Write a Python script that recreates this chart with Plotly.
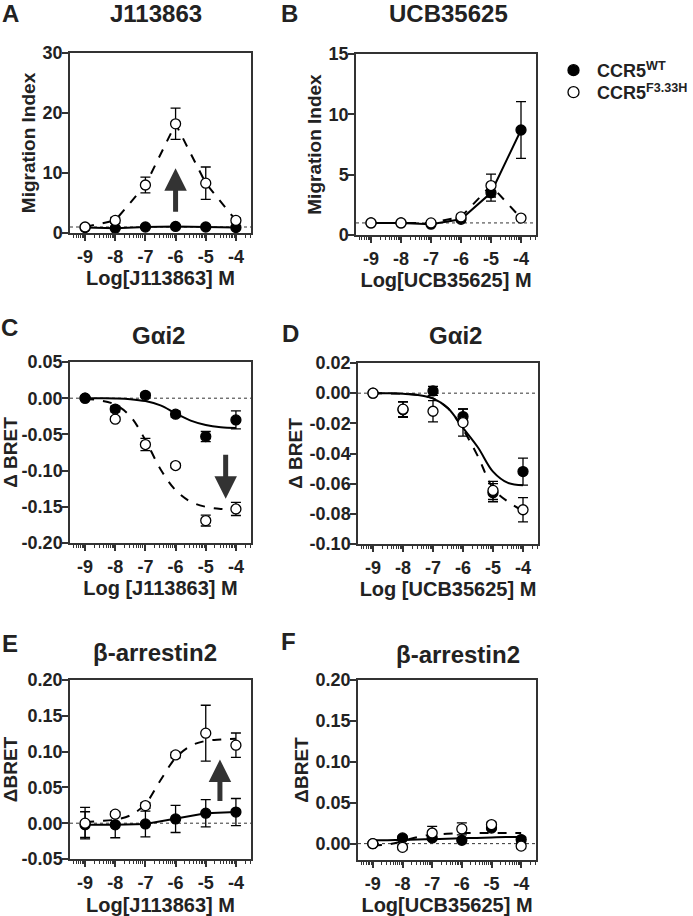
import math
import plotly.graph_objects as go

# ---------------- data ----------------
DOSE = [-9, -8, -7, -6, -5, -4]
CURVE_X = [-9, -8.5, -8, -7.5, -7, -6.5, -6, -5.5, -5, -4.5, -4]
X_TICKS = [-9, -8, -7, -6, -5, -4]
X_TICKTEXT = ["-9", "-8", "-7", "-6", "-5", "-4"]

# A: migration, J113863
A_WT = [0.9, 0.8, 1.0, 1.1, 1.0, 0.9]
A_WT_ERR = [0.15, 0.15, 0.15, 0.15, 0.15, 0.15]
A_F = [1.0, 2.1, 8.0, 18.2, 8.3, 2.1]
A_F_ERR = [0.3, 0.5, 1.3, 2.6, 2.7, 0.4]

# B: migration, UCB35625
B_WT = [1.0, 1.0, 0.9, 1.3, 3.5, 8.7]
B_WT_ERR = [0.1, 0.1, 0.1, 0.2, 0.7, 2.35]
B_F = [1.0, 1.0, 1.0, 1.5, 4.1, 1.4]
B_F_ERR = [0.1, 0.1, 0.15, 0.2, 0.95, 0.2]

# C: Gai2, J113863
C_WT = [0.0, -0.015, 0.004, -0.022, -0.053, -0.030]
C_WT_ERR = [0.002, 0.004, 0.003, 0.004, 0.007, 0.0125]
C_F = [0.0, -0.029, -0.064, -0.093, -0.169, -0.153]
C_F_ERR = [0.002, 0.003, 0.0085, 0.003, 0.0075, 0.009]
C_WT_FIT = [0.0, -0.0002, -0.0004, -0.0013, -0.004, -0.010, -0.021, -0.031, -0.037, -0.040, -0.041]
C_F_FIT = [-0.001, -0.003, -0.009, -0.025, -0.058, -0.098, -0.127, -0.143, -0.150, -0.153, -0.154]

# D: Gai2, UCB35625
D_WT = [0.0, -0.011, 0.0015, -0.0155, -0.066, -0.052]
D_WT_ERR = [0.001, 0.005, 0.003, 0.005, 0.006, 0.009]
D_F = [0.0, -0.0106, -0.012, -0.0195, -0.0645, -0.0773]
D_F_ERR = [0.001, 0.005, 0.007, 0.009, 0.006, 0.008]
D_WT_FIT = [0.0, -0.0001, -0.0004, -0.0012, -0.0035, -0.010, -0.023, -0.036, -0.052, -0.0595, -0.061]
D_F_FIT = [0.0, -0.0001, -0.0004, -0.0012, -0.0035, -0.010, -0.024, -0.042, -0.063, -0.072, -0.078]

# E: beta-arrestin2, J113863
E_WT = [-0.002, -0.0023, -0.001, 0.006, 0.014, 0.0155]
E_WT_ERR = [0.018, 0.018, 0.018, 0.019, 0.019, 0.019]
E_F = [0.0, 0.0126, 0.0246, 0.0954, 0.1257, 0.109]
E_F_ERR = [0.022, 0.003, 0.004, 0.004, 0.039, 0.017]
E_F_FIT = [0.002, 0.003, 0.005, 0.011, 0.027, 0.060, 0.091, 0.108, 0.115, 0.117, 0.118]

# F: beta-arrestin2, UCB35625
F_WT = [0.0, 0.007, 0.007, 0.004, 0.019, 0.005]
F_WT_ERR = [0.001, 0.002, 0.002, 0.002, 0.002, 0.003]
F_F = [0.0, -0.0045, 0.013, 0.018, 0.0233, -0.003]
F_F_ERR = [0.001, 0.003, 0.008, 0.0074, 0.003, 0.003]
F_WT_FIT = [0.004, 0.0042, 0.0045, 0.005, 0.0055, 0.006, 0.0065, 0.007, 0.0075, 0.008, 0.008]
F_F_FIT = [-0.002, -0.001, 0.003, 0.008, 0.011, 0.012, 0.013, 0.013, 0.013, 0.013, 0.013]

# y axis ticks per panel
A_YT = [0, 10, 20, 30]
B_YT = [0, 5, 10, 15]
C_YT = [0.05, 0.0, -0.05, -0.10, -0.15, -0.20]
D_YT = [0.02, 0.0, -0.02, -0.04, -0.06, -0.08, -0.10]
E_YT = [0.20, 0.15, 0.10, 0.05, 0.0, -0.05]
F_YT = [0.20, 0.15, 0.10, 0.05, 0.0]

LEGEND_NAMES = ["CCR5<sup>WT</sup>", "CCR5<sup>F3.33H</sup>"]

# ---------------- styling ----------------
FONT = "Liberation Sans, Arial, Helvetica, sans-serif"
INK = "#222222"
AX = "#333333"
W, H = 693, 916


def fmt(v, dec):
    return f"{v:.{dec}f}"


fig = go.Figure()

panels = [
    dict(n="", xd=(70, 251), yd=(53, 233), yr=(0, 30), yt=A_YT, dec=0,
         xt="Log[J113863] M", yt_title="Migration Index", base=1, so=2),
    dict(n="2", xd=(356, 536), yd=(54, 235), yr=(0, 15), yt=B_YT, dec=0,
         xt="Log[UCB35625] M", yt_title="Migration Index", base=1, so=2),
    dict(n="3", xd=(70, 251), yd=(362, 543), yr=(-0.20, 0.05), yt=C_YT, dec=2,
         xt="Log [J113863] M", yt_title="\u0394 BRET", base=0, so=5),
    dict(n="4", xd=(358, 538), yd=(363, 544), yr=(-0.10, 0.02), yt=D_YT, dec=2,
         xt="Log [UCB35625] M", yt_title="\u0394 BRET", base=0, so=5),
    dict(n="5", xd=(70, 251), yd=(680, 859), yr=(-0.05, 0.20), yt=E_YT, dec=2,
         xt="Log[J113863] M", yt_title="\u0394BRET", base=0, so=18),
    dict(n="6", xd=(358, 536), yd=(680, 860), yr=(-0.02, 0.20), yt=F_YT, dec=2,
         xt="Log[UCB35625] M", yt_title="\u0394BRET", base=0, so=18),
]

minor_vals = []
for dec_ in range(-10, -3):
    for k in range(2, 10):
        v = dec_ + math.log10(k)
        if -9.5 <= v <= -3.5:
            minor_vals.append(v)

layout_axes = {}
shapes = []
for p in panels:
    n = p["n"]
    layout_axes["xaxis" + n] = dict(
        domain=[p["xd"][0] / W, p["xd"][1] / W], anchor="y" + n, automargin=False,
        range=[-9.5, -3.5], showline=True, linecolor=AX, linewidth=1.5, mirror=True,
        ticks="outside", ticklen=6, tickwidth=1.5, tickcolor=AX,
        tickvals=X_TICKS, ticktext=X_TICKTEXT, ticklabelstandoff=1,
        tickfont=dict(family=FONT, size=18, color=INK, weight="bold"),
        minor=dict(tickmode="array", tickvals=minor_vals, ticks="outside",
                   ticklen=3, tickwidth=1, tickcolor=AX, showgrid=False),
        showgrid=False, zeroline=False,
        title=dict(text=p["xt"], font=dict(family=FONT, size=20, color=INK, weight="bold"),
                   standoff=p["so"]),
    )
    layout_axes["yaxis" + n] = dict(
        domain=[1 - p["yd"][1] / H, 1 - p["yd"][0] / H], anchor="x" + n, automargin=False,
        range=list(p["yr"]), showline=True, linecolor=AX, linewidth=1.5, mirror=True,
        ticks="outside", ticklen=6, tickwidth=1.5, tickcolor=AX,
        tickvals=p["yt"], ticktext=[fmt(v, p["dec"]) for v in p["yt"]],
        ticklabelstandoff=-4,
        tickfont=dict(family=FONT, size=18, color=INK, weight="bold"),
        showgrid=False, zeroline=False,
        title=dict(text=p["yt_title"], font=dict(family=FONT, size=19, color=INK, weight="bold"),
                   standoff=2),
    )
    shapes.append(dict(type="line", xref=("x" + n) + " domain", yref="y" + n,
                       x0=0, x1=1, y0=p["base"], y1=p["base"],
                       line=dict(color=AX, width=1, dash="dot"), layer="below"))


def pts(n, y, err, filled, line_dash=None, connect=False):
    mode = "lines+markers" if connect else "markers"
    fig.add_trace(go.Scatter(
        x=DOSE, y=y, mode=mode, xaxis="x" + n, yaxis="y" + n, showlegend=False,
        line=dict(color="black", width=2, dash=line_dash or "solid"),
        marker=dict(symbol="circle", size=10,
                    color="black" if filled else "white",
                    line=dict(color="black", width=1.3)),
        error_y=dict(type="data", array=err, visible=True, color="black",
                     thickness=1.3, width=5),
        cliponaxis=False,
    ))


def fit(n, y, dash):
    fig.add_trace(go.Scatter(
        x=CURVE_X, y=y, mode="lines", xaxis="x" + n, yaxis="y" + n, showlegend=False,
        line=dict(color="black", width=2, dash=dash, shape="spline", smoothing=1.0),
        hoverinfo="skip",
    ))


# A
pts("", A_WT, A_WT_ERR, True, "solid", connect=True)
pts("", A_F, A_F_ERR, False, "dash", connect=True)
# B
pts("2", B_WT, B_WT_ERR, True, "solid", connect=True)
pts("2", B_F, B_F_ERR, False, "dash", connect=True)
# C
fit("3", C_WT_FIT, "solid")
fit("3", C_F_FIT, "dash")
pts("3", C_F, C_F_ERR, False)
pts("3", C_WT, C_WT_ERR, True)
# D
fit("4", D_WT_FIT, "solid")
fit("4", D_F_FIT, "dash")
pts("4", D_WT, D_WT_ERR, True)
pts("4", D_F, D_F_ERR, False)
# E
fit("5", E_F_FIT, "dash")
pts("5", E_WT, E_WT_ERR, True, "solid", connect=True)
pts("5", E_F, E_F_ERR, False)
# F
fit("6", F_WT_FIT, "solid")
fit("6", F_F_FIT, "dash")
pts("6", F_WT, F_WT_ERR, True)
pts("6", F_F, F_F_ERR, False)

# legend-only entries (one legend box per entry for tight spacing)
for name, filled, lg in zip(LEGEND_NAMES, [True, False], ["legend", "legend2"]):
    fig.add_trace(go.Scatter(
        x=[None], y=[None], mode="markers", name=name, showlegend=True, legend=lg,
        marker=dict(symbol="circle", size=11, color="black" if filled else "white",
                    line=dict(color="black", width=1.3)),
    ))

annotations = []
TITLE_FONT = dict(family=FONT, size=24, color=INK, weight="bold")
for txt, xc, yc in [("J113863", 156, 14), ("UCB35625", 448, 14), ("G\u03b1i2", 158, 335),
                    ("G\u03b1i2", 455, 336), ("\u03b2-arrestin2", 155, 652),
                    ("\u03b2-arrestin2", 458, 654)]:
    annotations.append(dict(text=txt, x=xc / W, y=1 - yc / H, xref="paper", yref="paper",
                            showarrow=False, xanchor="center", yanchor="middle", font=TITLE_FONT))
for txt, xc, yc in [("A", 10, 13), ("B", 289, 13), ("C", 9, 327), ("D", 290, 333),
                    ("E", 10, 643), ("F", 288, 641)]:
    annotations.append(dict(text=txt, x=xc / W, y=1 - yc / H, xref="paper", yref="paper",
                            showarrow=False, xanchor="center", yanchor="middle", font=TITLE_FONT))

# arrows (tail -> tip)
ARROWS = [("", -6, 3.3, 10.8), ("3", -4.34, -0.076, -0.139), ("5", -4.53, 0.029, 0.089)]
for n, xa_, y_tail, y_tip in ARROWS:
    annotations.append(dict(x=xa_, y=y_tip, ax=xa_, ay=y_tail, xref="x" + n, yref="y" + n,
                            axref="x" + n, ayref="y" + n, text="", showarrow=True,
                            arrowhead=2, arrowsize=0.9, arrowwidth=5, arrowcolor="#333333",
                            standoff=0))

LEG_FONT = dict(family=FONT, size=18, color=INK, weight="bold")
fig.update_layout(
    width=W, height=H, margin=dict(l=0, r=0, t=0, b=0, autoexpand=False),
    paper_bgcolor="white", plot_bgcolor="white",
    font=dict(family=FONT, color=INK),
    shapes=shapes, annotations=annotations,
    showlegend=True,
    legend=dict(x=550 / W, y=1 - 52 / H, xref="container", yref="container",
                xanchor="left", yanchor="top", font=LEG_FONT,
                bgcolor="rgba(0,0,0,0)", itemwidth=37),
    legend2=dict(x=550 / W, y=1 - 74 / H, xref="container", yref="container",
                 xanchor="left", yanchor="top", font=LEG_FONT,
                 bgcolor="rgba(0,0,0,0)", itemwidth=37),
    **layout_axes,
)

fig.write_html("out.html", config={"displayModeBar": False},
               post_script="document.body.style.margin='0';document.body.style.overflow='hidden';")
